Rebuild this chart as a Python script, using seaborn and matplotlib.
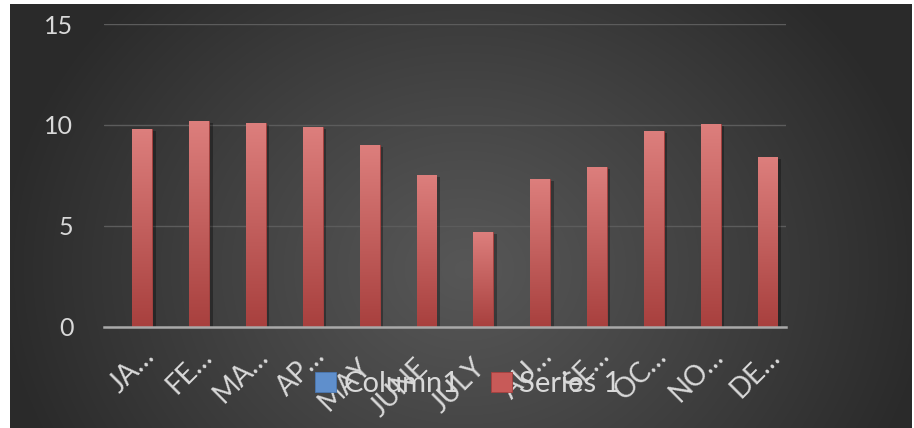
import numpy as np
import pandas as pd
import matplotlib
matplotlib.use("Agg")
import matplotlib.pyplot as plt
import matplotlib.transforms as mtransforms
import matplotlib.patheffects as pe
from matplotlib.patches import Patch
from matplotlib.colors import LinearSegmentedColormap
import seaborn as sns

# ---------------- data ----------------
months = ["JA…", "FE…", "MA…", "AP…", "MAY", "JUNE", "JULY",
          "AU…", "SE…", "OC…", "NO…", "DE…"]
series_names = ["Column1", "Series 1"]
column1 = [np.nan] * 12
series1 = [9.82, 10.21, 10.11, 9.92, 9.02, 7.54, 4.68,
           7.34, 7.93, 9.72, 10.06, 8.43]
y_ticks = [0, 5, 10, 15]

df = pd.DataFrame({
    "month": months * 2,
    "series": [series_names[0]] * 12 + [series_names[1]] * 12,
    "value": column1 + series1,
})

# ---------------- figure ----------------
W, H, DPI = 914, 428, 100
sns.set_theme(style="dark")
plt.rcParams['font.family'] = ['Lato', 'DejaVu Sans']
TXT = '#d9d9d9'
FS = 18
FSX = 20

fig = plt.figure(figsize=(W / DPI, H / DPI), dpi=DPI, facecolor='white')

# dark radial gradient background
bg = fig.add_axes([10 / W, 0, (W - 12) / W, (H - 4) / H])
bg.set_axis_off()
bw, bh = W - 12, H - 4
yy, xx = np.mgrid[0:bh, 0:bw]
cx, cy = 455, 265
r = np.sqrt(((xx - cx) / 470.0) ** 2 + ((yy - cy) / 400.0) ** 2)
v = 0.34 - (0.34 - 0.165) * np.clip(r, 0, 1) ** 1.1
bg.imshow(np.dstack([v, v, v]), aspect='auto', extent=[0, 1, 0, 1],
          origin='upper', interpolation='bilinear')
bg.set_xlim(0, 1)
bg.set_ylim(0, 1)

# main axes
ax = fig.add_axes([104 / W, 101.3 / H, 682 / W, 302.7 / H])
ax.patch.set_alpha(0)

blue = '#5f8fcc'
red = '#c85a58'
sns.barplot(data=df, x="month", y="value", hue="series", order=months,
            hue_order=series_names, palette=[blue, red], width=0.7,
            saturation=1, errorbar=None, legend=False, ax=ax)

ax.set_xlim(-0.5, len(months) - 0.5)
ax.set_ylim(0, 15)

# gradient fill for bars
red_grad = LinearSegmentedColormap.from_list('rg', ['#a8403e', '#dd7f7d'])
grad = np.linspace(0, 1, 256).reshape(-1, 1)
for p in list(ax.patches):
    h = p.get_height()
    if not np.isfinite(h) or h <= 0:
        continue
    x0, w = p.get_x(), p.get_width()
    p.set_facecolor('#c85a58')
    p.set_edgecolor('#a8403e')
    p.set_linewidth(0.6)
    p.set_path_effects([pe.SimplePatchShadow(offset=(2.5, -1.5), shadow_rgbFace='black', alpha=0.3),
                        pe.Normal()])
    im = ax.imshow(grad, cmap=red_grad, origin='lower', aspect='auto',
                   extent=[x0, x0 + w, 0, h], zorder=p.get_zorder() + 0.1,
                   interpolation='bilinear')
    im.set_clip_path(p)

ax.set_xlim(-0.5, len(months) - 0.5)
ax.set_ylim(0, 15)

# grid and spines
ax.set_yticks(y_ticks)
ax.yaxis.grid(True, color='#5c5c5c', linewidth=1.0)
ax.xaxis.grid(False)
ax.set_axisbelow(True)
for s in ['top', 'right', 'left']:
    ax.spines[s].set_visible(False)
ax.spines['bottom'].set_color('#a9a9a9')
ax.spines['bottom'].set_linewidth(1.8)
ax.spines['bottom'].set_zorder(5)
ax.set_xlabel('')
ax.set_ylabel('')

ax.tick_params(axis='y', length=0, pad=22, labelsize=FS, labelcolor=TXT)
ax.set_yticklabels([str(t) for t in y_ticks], fontsize=FS, color=TXT)

# rotated category labels
ax.set_xticks(range(len(months)))
ax.set_xticklabels([])
ax.tick_params(axis='x', length=0)
base = mtransforms.blended_transform_factory(ax.transData, ax.transAxes)
for i, lab in enumerate(months):
    if lab.endswith('…'):
        dx, dy = 24, 31
    else:
        dx, dy = 13, 42
    tr = base + mtransforms.ScaledTranslation(dx / DPI, -dy / DPI, fig.dpi_scale_trans)
    ax.text(i, 0, lab, transform=tr, rotation=45, rotation_mode='anchor',
            ha='right', va='baseline', fontsize=FSX, color=TXT, clip_on=False)

# legend
handles = [Patch(facecolor=blue, edgecolor='#4a78b2', linewidth=0.6),
           Patch(facecolor=red, edgecolor='#a8403e', linewidth=0.6)]
fig.legend(handles=handles, labels=series_names, loc='center',
           bbox_to_anchor=(468 / W, 1 - 384 / H), ncol=2, frameon=False,
           fontsize=FS + 3, handlelength=0.7, handleheight=0.7,
           handletextpad=0.25, columnspacing=1.1, labelcolor=TXT)

fig.savefig('out.png', dpi=DPI, facecolor='white')
